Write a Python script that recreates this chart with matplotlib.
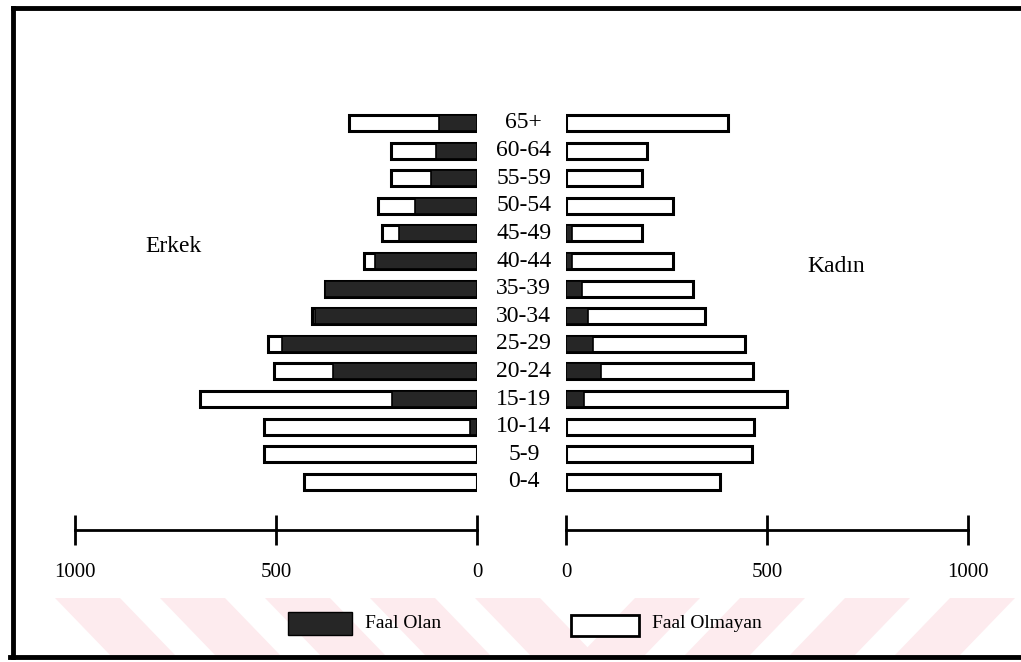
import numpy as np
import matplotlib.pyplot as plt
from matplotlib.patches import Rectangle, Polygon

plt.rcParams['font.family'] = ['Liberation Serif', 'DejaVu Serif']

ages = ['0-4', '5-9', '10-14', '15-19', '20-24', '25-29', '30-34',
        '35-39', '40-44', '45-49', '50-54', '55-59', '60-64', '65+']

# Erkek (men): total and economically active (Faal Olan)
men_total = [431, 529, 529, 688, 504, 521, 411, 377, 282, 237, 247, 214, 214, 318]
men_active = [0, 0, 18, 212, 357, 486, 402, 377, 254, 195, 155, 115, 102, 95]

# Kadin (women)
women_total = [382, 462, 467, 550, 465, 445, 346, 316, 266, 189, 266, 189, 201, 403]
women_active = [0, 0, 0, 45, 87, 67, 55, 40, 15, 15, 0, 0, 0, 0]

W, H = 1021, 662
fig = plt.figure(figsize=(W / 100, H / 100), dpi=100)
fig.patch.set_facecolor('white')

def fx(px):
    return px / W

def fy(py):
    return 1 - py / H

# faint watermark stripes at the bottom
for i in range(9):
    x0 = 55 + i * 105
    if x0 < 500:
        pts = [(x0, 598), (x0 + 65, 598), (x0 + 120, 655), (x0 + 55, 655)]
    else:
        pts = [(x0 + 55, 598), (x0 + 120, 598), (x0 + 65, 655), (x0, 655)]
    fig.patches.append(Polygon([(fx(a), fy(b)) for a, b in pts], closed=True,
                               transform=fig.transFigure, facecolor='#fdebee',
                               edgecolor='none', zorder=0))

# frame
fig.add_artist(plt.Line2D([fx(13), 1], [fy(8), fy(8)], color='black', lw=3.5))
fig.add_artist(plt.Line2D([fx(13), fx(13)], [fy(8), fy(657)], color='black', lw=3.5))
fig.add_artist(plt.Line2D([fx(10), 1], [fy(657), fy(657)], color='black', lw=3.5))

bottom_px, top_px = 530, 100
ax_b = fy(bottom_px)
ax_h = (bottom_px - top_px) / H
axL = fig.add_axes([fx(75), ax_b, fx(477) - fx(75), ax_h])
axR = fig.add_axes([fx(566), ax_b, fx(968) - fx(566), ax_h])

y = np.arange(len(ages))
bh = 0.58
dark = '#262626'

for ax in (axL, axR):
    ax.set_facecolor('none')
    ax.set_xlim(0, 1000)
    ax.set_ylim(-1.74, 13.83)
    for s in ('top', 'left', 'right'):
        ax.spines[s].set_visible(False)
    ax.spines['bottom'].set_linewidth(2)
    ax.set_yticks([])
    ax.set_xticks([0, 500, 1000])
    ax.set_xticklabels(['0', '500', '1000'])
    ax.tick_params(axis='x', direction='inout', length=22, width=2,
                   labelsize=15, pad=13)

axL.invert_xaxis()
axL.get_xticklabels()[2].set_x(1070)

axL.barh(y, men_total, height=bh, color='white', edgecolor='black', linewidth=2.2)
axL.barh(y, men_active, height=bh, color=dark, edgecolor='black', linewidth=1.2)
axR.barh(y, women_total, height=bh, color='white', edgecolor='black', linewidth=2.2)
axR.barh(y, women_active, height=bh, color=dark, edgecolor='black', linewidth=1.2)

for yi, lab in zip(y, ages):
    axR.text(-105, yi, lab, ha='center', va='center', fontsize=17, clip_on=False)

fig.text(fx(173), fy(247), 'Erkek', ha='center', va='center', fontsize=17)
fig.text(fx(836), fy(267), 'Kadın', ha='center', va='center', fontsize=17)

# legend
fig.patches.append(Rectangle((fx(288), fy(635)), fx(64), 23 / H, transform=fig.transFigure,
                             facecolor=dark, edgecolor='black', lw=1))
fig.text(fx(365), fy(623), 'Faal Olan', ha='left', va='center', fontsize=14)
fig.patches.append(Rectangle((fx(571), fy(636)), fx(68), 21 / H, transform=fig.transFigure,
                             facecolor='white', edgecolor='black', lw=2))
fig.text(fx(652), fy(623), 'Faal Olmayan', ha='left', va='center', fontsize=14)

fig.savefig('out.png', dpi=100)
